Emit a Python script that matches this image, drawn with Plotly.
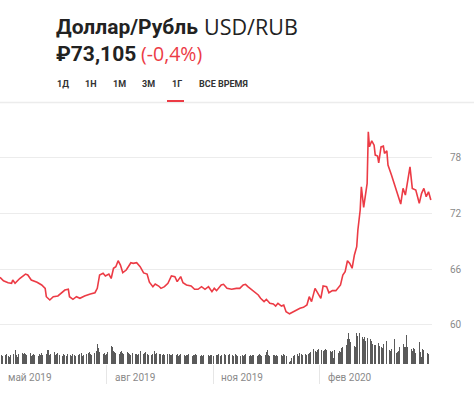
import plotly.graph_objects as go
import pandas as pd

# ---- data ----
price_dates = [
    "2019-05-01","2019-05-04","2019-05-08","2019-05-11","2019-05-12","2019-05-14","2019-05-18","2019-05-23",
    "2019-05-25","2019-05-28","2019-06-02","2019-06-06","2019-06-09","2019-06-10","2019-06-13","2019-06-16",
    "2019-06-20","2019-06-23","2019-06-26","2019-06-29","2019-06-30","2019-07-03","2019-07-06","2019-07-09",
    "2019-07-13","2019-07-18","2019-07-22","2019-07-24","2019-07-26","2019-07-29","2019-07-31","2019-08-03",
    "2019-08-05","2019-08-07","2019-08-09","2019-08-11","2019-08-13","2019-08-15","2019-08-18","2019-08-22",
    "2019-08-24","2019-08-27","2019-08-30","2019-09-02","2019-09-05","2019-09-07","2019-09-10","2019-09-12",
    "2019-09-15","2019-09-17","2019-09-20","2019-09-23","2019-09-26","2019-09-29","2019-10-01","2019-10-04",
    "2019-10-06","2019-10-09","2019-10-13","2019-10-16","2019-10-19","2019-10-22","2019-10-25","2019-10-28",
    "2019-10-31","2019-11-02","2019-11-04","2019-11-08","2019-11-10","2019-11-13","2019-11-17","2019-11-21",
    "2019-11-24","2019-11-27","2019-11-29","2019-12-01","2019-12-04","2019-12-07","2019-12-10","2019-12-12",
    "2019-12-15","2019-12-17","2019-12-20","2019-12-23","2019-12-25","2019-12-27","2019-12-30","2020-01-01",
    "2020-01-03","2020-01-06","2020-01-09","2020-01-12","2020-01-15","2020-01-18","2020-01-21","2020-01-23",
    "2020-01-25","2020-01-28","2020-01-31","2020-02-02","2020-02-04","2020-02-07","2020-02-09","2020-02-12",
    "2020-02-15","2020-02-17","2020-02-19","2020-02-21","2020-02-23","2020-02-25","2020-02-27","2020-02-29",
    "2020-03-02","2020-03-04","2020-03-05","2020-03-07","2020-03-08","2020-03-10","2020-03-12","2020-03-13",
    "2020-03-14","2020-03-15","2020-03-17","2020-03-19","2020-03-20","2020-03-22","2020-03-23","2020-03-25",
    "2020-03-27","2020-03-28","2020-03-30","2020-03-31","2020-04-03","2020-04-06","2020-04-09","2020-04-11",
    "2020-04-13","2020-04-15","2020-04-19","2020-04-21","2020-04-24","2020-04-27","2020-04-29","2020-05-01",
    "2020-05-03","2020-05-05","2020-05-07",
]
price_values = [
    65.13,64.76,64.55,64.48,64.84,64.48,65.00,65.48,
    65.38,64.84,64.59,64.30,63.94,63.04,62.69,63.04,
    63.12,63.41,63.76,63.84,63.04,62.76,63.04,62.87,
    63.12,63.33,63.47,63.94,65.38,65.56,65.27,65.48,
    65.00,66.10,66.27,66.91,66.45,65.62,65.91,66.70,
    66.63,66.70,66.27,65.60,65.48,64.60,64.12,64.41,
    64.19,63.94,64.12,64.48,65.27,65.20,64.66,65.20,
    64.55,64.30,64.19,63.84,63.84,64.12,63.84,64.12,
    63.58,63.94,63.69,64.30,64.37,63.94,63.84,63.94,
    63.94,64.30,64.37,64.12,63.84,63.58,63.23,62.87,
    62.51,62.76,62.33,62.26,62.04,62.33,62.04,62.15,
    61.43,61.20,61.43,61.61,61.80,61.90,62.15,63.04,
    62.51,63.94,63.23,62.87,64.19,64.12,63.47,63.69,
    63.69,63.94,64.30,65.38,65.73,66.91,66.63,66.10,
    67.53,68.42,70.22,72.37,74.87,72.66,74.70,75.24,
    80.79,79.17,79.82,79.35,78.28,78.17,77.45,79.17,
    79.25,78.46,78.75,77.20,76.13,75.05,73.87,73.01,
    74.70,73.98,77.02,74.70,74.52,73.09,74.16,74.70,
    73.80,74.33,73.44,
]

volume_start = "2019-05-01"
volume_values = [
    # May - early Aug 2019
    10,9,8,9,10,8,7,9,10,14,9,7,10,11,10,11,10,9,11,8,9,10,9,8,10,9,11,9,10,14,14,9,10,12,9,10,11,9,8,10,
    9,8,10,9,8,10,9,8,9,10,11,8,9,10,11,12,10,9,11,13,20,16,12,10,11,9,10,
    # Aug - Oct 2019
    12,18,17,13,12,11,10,12,13,11,10,12,11,10,9,11,10,10,9,10,13,10,11,12,10,9,9,10,13,10,11,10,10,9,
    10,9,10,10,9,9,10,9,10,8,9,10,9,8,9,9,10,8,9,9,10,9,8,9,8,9,10,9,8,9,9,8,9,
    # Nov 2019 - Jan 2020
    9,10,8,9,10,9,8,9,10,9,8,10,9,8,8,9,8,9,10,8,9,8,9,9,8,9,10,9,8,9,12,14,9,8,9,9,8,9,8,9,8,10,9,8,
    2,3,6,8,9,10,8,11,10,9,10,9,10,11,12,15,13,12,14,15,14,13,14,15,
    # Feb - May 2020
    14,13,12,13,6,14,11,13,12,16,17,19,25,31,25,22,18,17,31,28,31,27,25,27,23,26,25,23,20,19,19,21,
    18,17,16,20,23,19,14,13,15,25,11,12,13,17,20,17,17,29,17,15,13,16,15,11,22,12,7,15,14,11,10,
]

price_ticks = [60, 66, 72, 78]
month_ticks = ["2019-05-01", "2019-08-01", "2019-11-01", "2020-02-01"]
month_labels = ["май 2019", "авг 2019", "ноя 2019", "фев 2020"]

title_name = "Доллар/Рубль"
title_ticker = "USD/RUB"
last_price = "₽73,105"
last_change = "(-0,4%)"
tabs = ["1Д", "1Н", "1М", "3М", "1Г", "ВСЕ ВРЕМЯ"]

volume_dates = pd.bdate_range(volume_start, periods=len(volume_values))

# ---- figure geometry ----
W, H = 474, 399
ML, MR, MT, MB = 0, 42, 110, 35
PW, PH = W - ML - MR, H - MT - MB
RED = "#ec3b45"


def px(x):
    return (x - ML) / PW


def py(y):
    return (H - MB - y) / PH


fig = go.Figure()

fig.add_trace(go.Bar(
    x=volume_dates, y=volume_values, yaxis="y2",
    marker=dict(color="#5a5a5a", line=dict(width=0)),
    width=86400000 * 0.85, hoverinfo="skip", showlegend=False,
))

fig.add_trace(go.Scatter(
    x=price_dates, y=price_values, mode="lines",
    line=dict(color=RED, width=1.6),
    hoverinfo="skip", showlegend=False,
))

fig.update_layout(
    width=W, height=H,
    margin=dict(l=ML, r=MR, t=MT, b=MB),
    paper_bgcolor="white", plot_bgcolor="white",
    font=dict(family="Roboto, Arial, sans-serif"),
    bargap=0,
    xaxis=dict(
        type="date",
        range=["2019-05-01", "2020-05-08"],
        showgrid=False, zeroline=False, showline=False,
        tickvals=month_ticks[1:], ticks="outside", ticklen=19,
        tickcolor="#e6e6e6", tickwidth=1,
        showticklabels=False,
    ),
    yaxis=dict(
        range=[55.80, 83.13],
        side="right",
        tickvals=price_ticks,
        showgrid=True, gridcolor="#ececec", gridwidth=1,
        zeroline=False, showline=False,
        ticks="", ticklabelstandoff=17,
        tickfont=dict(size=10, color="#8a8a8a"),
    ),
    yaxis2=dict(
        overlaying="y", range=[0, PH], visible=False,
    ),
)

annotations = []
for d, lab in zip(month_ticks, month_labels):
    annotations.append(dict(
        x=d, y=py(377), xref="x", yref="paper", text=lab,
        showarrow=False, xanchor="left", yanchor="middle", xshift=6,
        font=dict(size=10, color="#8a8a8a"),
    ))


def head(text, x, y, size, color="#222222", family="Roboto, Arial, sans-serif"):
    annotations.append(dict(
        x=px(x), y=py(y), xref="paper", yref="paper", text=text,
        showarrow=False, xanchor="left", yanchor="middle",
        font=dict(size=size, color=color, family=family),
    ))


head(f"<b>{title_name}</b>", 54, 27, 21)
head(title_ticker, 202, 27, 21.5, family="Open Sans, Arial, sans-serif")
head(f"<b>{last_price}</b>", 54, 54, 21)
head(last_change, 139, 54, 19.5, color=RED, family="Open Sans, Arial, sans-serif")

tab_x = [55, 83, 111, 140, 170, 197]
for t, x in zip(tabs, tab_x):
    head(f"<b>{t}</b>", x, 84, 9, color="#333333")

fig.update_layout(annotations=annotations)

fig.update_layout(shapes=[
    dict(type="line", xref="paper", yref="paper",
         x0=px(0), x1=px(W), y0=py(102.5), y1=py(102.5),
         line=dict(color="#ececec", width=1.5)),
    dict(type="line", xref="paper", yref="paper",
         x0=px(167), x1=px(184), y0=py(101), y1=py(101),
         line=dict(color=RED, width=2)),
])

fig.write_html(
    "out.html",
    config={"displayModeBar": False, "staticPlot": True},
    post_script="document.body.style.margin='0';document.body.style.overflow='hidden';",
)
